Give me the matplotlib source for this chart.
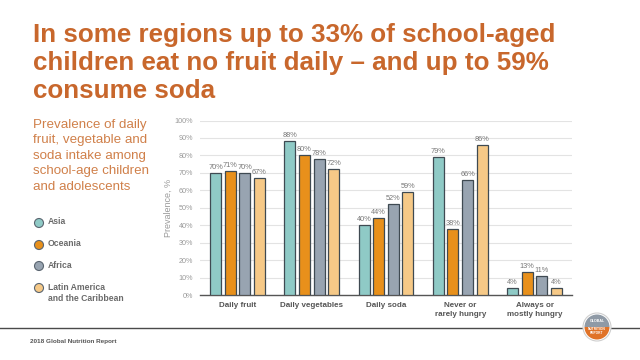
import matplotlib
matplotlib.use("Agg")
import matplotlib.pyplot as plt
from matplotlib.patches import Circle, Wedge
import numpy as np

categories = ["Daily fruit", "Daily vegetables", "Daily soda", "Never or\nrarely hungry", "Always or\nmostly hungry"]
regions = ["Asia", "Oceania", "Africa", "Latin America\nand the Caribbean"]
asia = [70, 88, 40, 79, 4]
oceania = [71, 80, 44, 38, 13]
africa = [70, 78, 52, 66, 11]
latam = [67, 72, 59, 86, 4]
series = [asia, oceania, africa, latam]
colors = ["#8FCAC6", "#E8901B", "#98A4B1", "#F6C987"]
yticks = list(range(0, 101, 10))

plt.rcParams['font.family'] = ['Liberation Sans', 'DejaVu Sans']
fig = plt.figure(figsize=(6.4, 3.6), dpi=100)
fig.patch.set_facecolor("white")

orange = "#C8672C"
fig.text(33/640, 1 - 23/360, "In some regions up to 33% of school-aged\nchildren eat no fruit daily \u2013 and up to 59%\nconsume soda",
         ha="left", va="top", fontsize=18.7, fontweight="bold", color=orange, linespacing=1.22)
fig.text(33/640, 1 - 119/360, "Prevalence of daily\nfruit, vegetable and\nsoda intake among\nschool-age children\nand adolescents",
         ha="left", va="top", fontsize=9.6, color="#D0804A", linespacing=1.38)

# Legend
leg_y = [223, 245, 266, 288]
ax_c = fig.add_axes([0, 0, 1, 1], zorder=0)
ax_c.set_xlim(0, 640); ax_c.set_ylim(360, 0); ax_c.axis("off")
for lab, col, yy in zip(regions, colors, leg_y):
    ax_c.add_patch(Circle((39, yy), 4.5, facecolor=col, edgecolor="#5a6570", lw=0.8))
    if "\n" in lab:
        ax_c.text(48, yy - 5, lab, ha="left", va="top",
                  fontsize=6.2, fontweight="bold", color="#6a6a6a", linespacing=1.3)
    else:
        ax_c.text(48, yy - 1, lab, ha="left", va="center",
                  fontsize=6.2, fontweight="bold", color="#6a6a6a")

ax = fig.add_axes([200/640, 1 - 295/360, (572-200)/640, (295-120.5)/360])
x = np.arange(len(categories))
off = 0.197
w = 0.148
for i, (vals, col) in enumerate(zip(series, colors)):
    pos = x + (i - 1.5) * off
    ax.bar(pos, vals, width=w, color=col, edgecolor="#3f4a52", linewidth=0.9, zorder=3)
    for p, v in zip(pos, vals):
        ax.text(p, v + 1.2, f"{v}%", ha="center", va="bottom", fontsize=5.3, color="#777777", zorder=4)

ax.set_ylim(0, 100)
ax.set_xlim(-0.505, 4.505)
ax.set_yticks(yticks)
ax.set_yticklabels([f"{t}%" for t in yticks], fontsize=5.2, color="#9a9a9a")
ax.set_xticks(x)
ax.set_xticklabels(categories, fontsize=5.8, fontweight="bold", color="#555555", linespacing=1.4)
ax.tick_params(axis="both", length=0, pad=5)
ax.grid(axis="y", color="#e3e3e3", lw=0.8, zorder=0)
for s in ["top", "right", "left"]:
    ax.spines[s].set_visible(False)
ax.spines["bottom"].set_color("#555555")
ax.spines["bottom"].set_linewidth(1.0)
ax.set_ylabel("Prevalence, %", fontsize=6.5, color="#9a9a9a", labelpad=1)

# footer line and logo
ov = fig.add_axes([0, 0, 1, 1], zorder=5)
ov.set_xlim(0, 640); ov.set_ylim(360, 0); ov.axis("off")
ov.plot([0, 640], [328, 328], color="#4a4a4a", lw=1.0)
ov.add_patch(Circle((597, 327), 14, facecolor="white", edgecolor="#cfcfcf", lw=0.8, zorder=6))
ov.add_patch(Wedge((597, 327), 12.5, 180, 360, facecolor="#8f9aa6", zorder=7))
ov.add_patch(Wedge((597, 327), 12.5, 0, 180, facecolor="#E07328", zorder=7))
ov.text(597, 321, "GLOBAL", ha="center", va="center", fontsize=2.6, color="white", fontweight="bold", zorder=8)
ov.text(597, 331, "NUTRITION\nREPORT", ha="center", va="center", fontsize=2.3, color="white", fontweight="bold", zorder=8, linespacing=1.0)
ov.text(30, 341, "2018 Global Nutrition Report", ha="left", va="center", fontsize=4.6, fontweight="bold", color="#555555")

fig.savefig("out.png", dpi=100, facecolor="white")
